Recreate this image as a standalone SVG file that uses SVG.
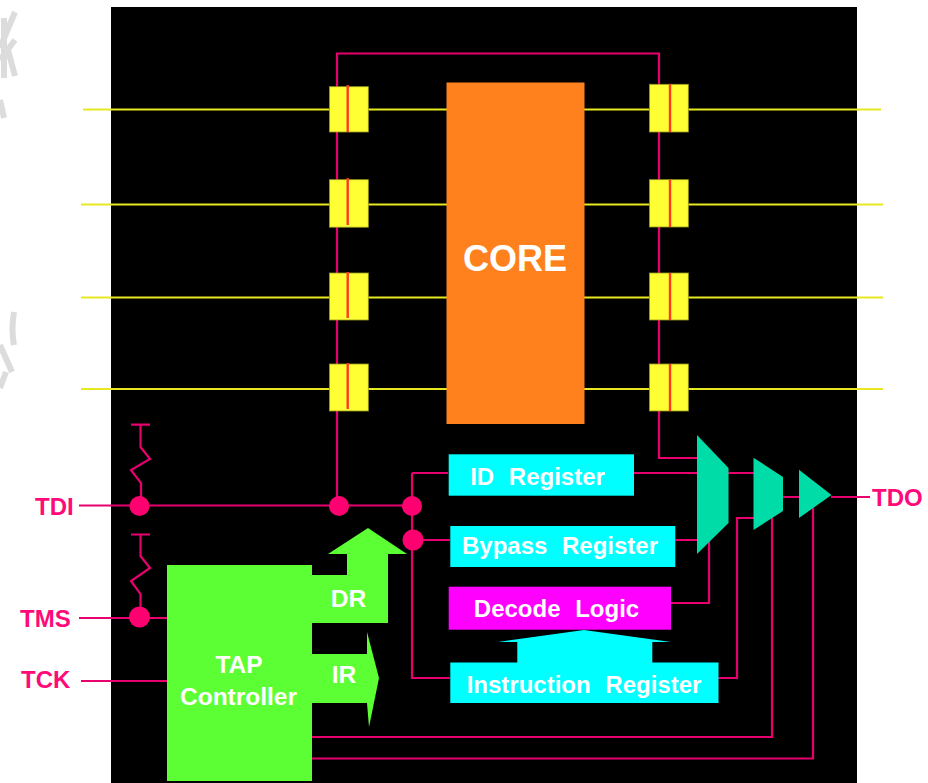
<svg xmlns="http://www.w3.org/2000/svg" width="928" height="783" viewBox="0 0 928 783">
<style>
text{font-family:"Liberation Sans",Arial,sans-serif;font-weight:bold;fill:#fff}
.sig{font-size:24px;fill:#ff0a78}
.reg{font-size:24px;word-spacing:8px;text-anchor:middle}
.lab{font-size:24.500px;text-anchor:middle}
.w{fill:none;stroke:#e8006e;stroke-width:2.2}
.y{fill:none;stroke:#e8e820;stroke-width:2}
.cell{fill:#ffff33;stroke:#9a9a20;stroke-width:.8}
.red{stroke:#ff3a20;stroke-width:2.4}
.dot{fill:#ff0070}
.mux{fill:#00dca8}
.cy{fill:#00ffff}
.wm{fill:none;stroke:#dcdcdc;stroke-width:6}
</style>
<rect width="928" height="783" fill="#fff"/>
<g id="watermark">
<path class="wm" d="M4 18V78M15 12L0 48M0 60L15 40M8 50L15 76M0 100L4 118M14 312Q11 330 14 345M0 345L12 372M0 388L6 372"/>
</g>
<rect id="background" x="111" y="7" width="746" height="776" fill="#000"/>
<g id="connectors">
<path class="y" d="M83 109.500H881M81 204.500H883M81 297.500H883M81 389H883"/>
<path class="w" d="M337 506V53.500H659V458H697"/>
<path class="w" d="M79 505.500H412M412 473V678H450M448 473H412M413 540H450"/>
<path class="w" d="M634 473H697M675 540H697M671 603H709V540M728 473H754M783 497H799M831 497H870M718 678H737V518H754"/>
<path class="w" d="M79 618H167M81 681H167M312 737H772V515M312 758.500H813V505"/>
<path class="w" d="M131 424.700H150M140.500 425V447L150 459L131 470L141 483V500M131 534.500H150M140.500 535V556L150 568L131 581L140.500 594V615"/>
</g>
<g id="dots">
<circle class="dot" cx="139.500" cy="506" r="10"/>
<circle class="dot" cx="339" cy="506" r="10"/>
<circle class="dot" cx="412" cy="506" r="10"/>
<circle class="dot" cx="413" cy="540" r="10.500"/>
<circle class="dot" cx="139.500" cy="617" r="10.500"/>
</g>
<g id="cells-left">
<rect class="cell" x="329.500" y="86.700" width="38.800" height="45.300"/>
<rect class="cell" x="329.500" y="179.700" width="38.800" height="47.500"/>
<rect class="cell" x="329.500" y="273" width="38.800" height="47"/>
<rect class="cell" x="329.500" y="364" width="38.800" height="47"/>
<path class="red" d="M347.700 85V132M347.700 178V225M347.700 272V318M347.700 363V409"/>
</g>
<g id="cells-right">
<rect class="cell" x="649.500" y="84.300" width="38.800" height="47.700"/>
<rect class="cell" x="649.500" y="179.700" width="38.800" height="47.300"/>
<rect class="cell" x="649.500" y="273" width="38.800" height="47"/>
<rect class="cell" x="649.500" y="364" width="38.800" height="47"/>
<path class="red" d="M670 84.300V132M670 179.700V227M670 273V320M670 364V411"/>
</g>
<g id="core">
<rect x="446.500" y="82.500" width="138" height="341.500" fill="#ff811e"/>
<text x="515" y="271" font-size="36" text-anchor="middle">CORE</text>
</g>
<g id="tap-controller">
<path fill="#5cff33" d="M167 565H312V575H347V554H328L368 528L407 554H388V623H312V654H367V632L379 678L369 727L367 703H312V781H167Z"/>
<text class="lab" x="239" y="673">TAP</text>
<text class="lab" x="238.500" y="705">Controller</text>
<text class="lab" x="348.500" y="607" font-size="24">DR</text>
<text class="lab" x="344" y="683" font-size="24">IR</text>
</g>
<g id="id-register">
<rect class="cy" x="448.700" y="454.300" width="185.300" height="41.400"/>
<text class="reg" x="537.500" y="485">ID Register</text>
</g>
<g id="bypass-register">
<rect class="cy" x="450.300" y="526" width="225" height="41"/>
<text class="reg" x="560" y="554">Bypass Register</text>
</g>
<g id="decode-logic">
<rect x="448.700" y="586.700" width="222.300" height="43" fill="#ff00ff"/>
<text class="reg" x="556.500" y="617">Decode Logic</text>
</g>
<g id="instruction-register">
<path class="cy" d="M498 642L584 630L671 642H652.300V662.500H718.500V703H450.300V662.500H517.300V642Z"/>
<text class="reg" x="584" y="693">Instruction Register</text>
</g>
<g id="mux-1"><polygon class="mux" points="697,435 728.500,468 728.500,523 697,554"/></g>
<g id="mux-2"><polygon class="mux" points="753.500,457.700 783,477 783,511 753.500,530"/></g>
<g id="mux-3"><polygon class="mux" points="799,469.700 831.500,495 799,518"/></g>
<g id="pin-labels">
<text class="sig" x="35" y="515">TDI</text>
<text class="sig" x="20" y="627">TMS</text>
<text class="sig" x="21" y="688">TCK</text>
<text class="sig" x="872" y="506">TDO</text>
</g>
</svg>
